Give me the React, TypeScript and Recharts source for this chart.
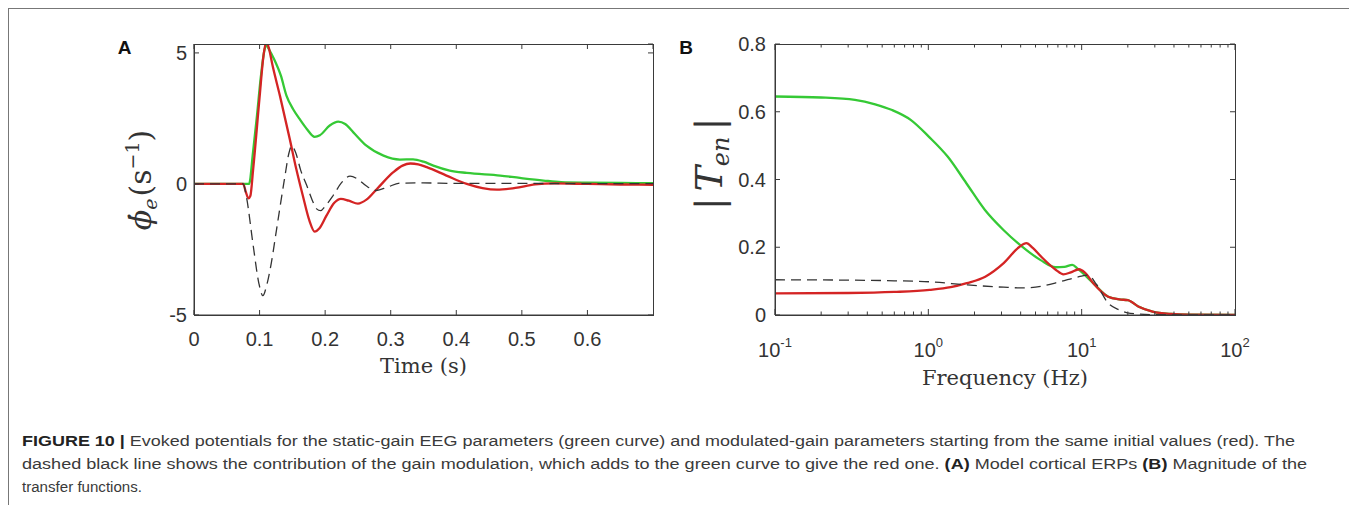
import React from "react";
import { LineChart, Line, XAxis, YAxis, CartesianGrid } from "recharts";

// ---------- Panel A: evoked potentials (time, s) ----------
const greenA = [
  { t: 0, v: 0 }, { t: 0.05, v: 0 }, { t: 0.084, v: 0 }, { t: 0.09, v: 1.2 },
  { t: 0.096, v: 2.6 }, { t: 0.102, v: 4.1 }, { t: 0.107, v: 5.05 }, { t: 0.11, v: 5.3 },
  { t: 0.114, v: 5.15 }, { t: 0.122, v: 4.77 }, { t: 0.1325, v: 4.13 }, { t: 0.141, v: 3.37 },
  { t: 0.151, v: 2.86 }, { t: 0.161, v: 2.48 }, { t: 0.172, v: 2.1 }, { t: 0.184, v: 1.8 },
  { t: 0.192, v: 1.86 }, { t: 0.207, v: 2.23 }, { t: 0.22, v: 2.38 }, { t: 0.2305, v: 2.29 },
  { t: 0.243, v: 1.97 }, { t: 0.263, v: 1.46 }, { t: 0.289, v: 1.08 }, { t: 0.314, v: 0.93 },
  { t: 0.334, v: 0.94 }, { t: 0.35, v: 0.85 }, { t: 0.365, v: 0.7 }, { t: 0.39, v: 0.51 },
  { t: 0.416, v: 0.42 }, { t: 0.467, v: 0.32 }, { t: 0.497, v: 0.23 }, { t: 0.533, v: 0.13 },
  { t: 0.56, v: 0.07 }, { t: 0.6, v: 0.05 }, { t: 0.65, v: 0.04 }, { t: 0.7, v: 0.03 },
];

const redA = [
  { t: 0, v: 0 }, { t: 0.05, v: 0 }, { t: 0.075, v: 0 }, { t: 0.079, v: -0.3 },
  { t: 0.083, v: -0.55 }, { t: 0.086, v: -0.45 }, { t: 0.09, v: 0.5 }, { t: 0.1, v: 3.3 },
  { t: 0.106, v: 4.9 }, { t: 0.1105, v: 5.45 }, { t: 0.114, v: 5.2 }, { t: 0.12, v: 4.5 },
  { t: 0.131, v: 3.37 }, { t: 0.146, v: 1.72 }, { t: 0.156, v: 0.57 }, { t: 0.166, v: -0.45 },
  { t: 0.176, v: -1.4 }, { t: 0.184, v: -1.82 }, { t: 0.191, v: -1.7 }, { t: 0.202, v: -1.21 },
  { t: 0.214, v: -0.72 }, { t: 0.224, v: -0.57 }, { t: 0.236, v: -0.64 }, { t: 0.25, v: -0.75 },
  { t: 0.263, v: -0.6 }, { t: 0.279, v: -0.19 }, { t: 0.304, v: 0.45 }, { t: 0.318, v: 0.7 },
  { t: 0.33, v: 0.78 }, { t: 0.342, v: 0.75 }, { t: 0.355, v: 0.64 }, { t: 0.385, v: 0.32 },
  { t: 0.416, v: 0.0 }, { t: 0.44, v: -0.16 }, { t: 0.462, v: -0.22 }, { t: 0.49, v: -0.15 },
  { t: 0.52, v: -0.02 }, { t: 0.55, v: 0.02 }, { t: 0.6, v: 0.0 }, { t: 0.65, v: -0.02 },
  { t: 0.7, v: -0.03 },
];

const dashA = [
  { t: 0, v: 0 }, { t: 0.05, v: 0 }, { t: 0.075, v: 0 }, { t: 0.08, v: -0.5 },
  { t: 0.09, v: -2.3 }, { t: 0.099, v: -3.8 }, { t: 0.105, v: -4.26 }, { t: 0.111, v: -3.85 },
  { t: 0.118, v: -3.0 }, { t: 0.126, v: -1.72 }, { t: 0.138, v: 0.19 }, { t: 0.145, v: 1.2 },
  { t: 0.149, v: 1.46 }, { t: 0.155, v: 1.2 }, { t: 0.163, v: 0.5 }, { t: 0.172, v: -0.06 },
  { t: 0.18, v: -0.6 }, { t: 0.187, v: -0.95 }, { t: 0.193, v: -1.02 }, { t: 0.2, v: -0.85 },
  { t: 0.212, v: -0.45 }, { t: 0.225, v: 0.05 }, { t: 0.238, v: 0.3 }, { t: 0.25, v: 0.18 },
  { t: 0.263, v: -0.08 }, { t: 0.278, v: -0.25 }, { t: 0.295, v: -0.12 }, { t: 0.314, v: 0.03 },
  { t: 0.35, v: 0.04 }, { t: 0.4, v: 0.02 }, { t: 0.5, v: 0.02 }, { t: 0.6, v: 0.01 },
  { t: 0.7, v: 0.01 },
];

const timeDomain = [0, 0.7];
const timeTicks = [0, 0.1, 0.2, 0.3, 0.4, 0.5, 0.6];
const timeTickLabels = ["0", "0.1", "0.2", "0.3", "0.4", "0.5", "0.6"];
const phiDomain = [-5, 5.34];
const phiTicks = [-5, 0, 5];
const phiTickLabels = ["-5", "0", "5"];

// ---------- Panel B: transfer function magnitude (frequency, Hz) ----------
const greenB = [
  { f: 0.1, v: 0.645 }, { f: 0.2, v: 0.642 }, { f: 0.332, v: 0.635 }, { f: 0.45, v: 0.622 },
  { f: 0.58, v: 0.605 }, { f: 0.767, v: 0.576 }, { f: 1.01, v: 0.526 }, { f: 1.34, v: 0.467 },
  { f: 1.77, v: 0.389 }, { f: 2.34, v: 0.31 }, { f: 3.09, v: 0.251 }, { f: 4.09, v: 0.202 },
  { f: 5.4, v: 0.162 }, { f: 6.76, v: 0.141 }, { f: 7.7, v: 0.142 }, { f: 8.69, v: 0.148 },
  { f: 9.45, v: 0.136 }, { f: 11.9, v: 0.094 }, { f: 14.9, v: 0.054 }, { f: 17.6, v: 0.046 },
  { f: 20, v: 0.044 }, { f: 23.4, v: 0.025 }, { f: 29, v: 0.01 }, { f: 38.5, v: 0.003 },
  { f: 50, v: 0.001 }, { f: 100, v: 0.0 },
];

const redB = [
  { f: 0.1, v: 0.064 }, { f: 0.3, v: 0.065 }, { f: 0.6, v: 0.068 }, { f: 1.02, v: 0.074 },
  { f: 1.4, v: 0.082 }, { f: 1.78, v: 0.094 }, { f: 2.35, v: 0.113 }, { f: 3.1, v: 0.153 },
  { f: 3.9, v: 0.2 }, { f: 4.36, v: 0.212 }, { f: 4.8, v: 0.198 }, { f: 5.45, v: 0.172 },
  { f: 6.8, v: 0.133 }, { f: 7.6, v: 0.12 }, { f: 8.5, v: 0.126 }, { f: 9.6, v: 0.135 },
  { f: 10.5, v: 0.125 }, { f: 11.9, v: 0.094 }, { f: 14.9, v: 0.054 }, { f: 17.6, v: 0.046 },
  { f: 20, v: 0.044 }, { f: 23.4, v: 0.025 }, { f: 29, v: 0.01 }, { f: 38.5, v: 0.003 },
  { f: 50, v: 0.001 }, { f: 100, v: 0.0 },
];

const dashB = [
  { f: 0.1, v: 0.104 }, { f: 0.3, v: 0.103 }, { f: 0.6, v: 0.101 }, { f: 1.02, v: 0.098 },
  { f: 1.78, v: 0.089 }, { f: 3.1, v: 0.082 }, { f: 4.12, v: 0.08 }, { f: 5.45, v: 0.085 },
  { f: 7.2, v: 0.098 }, { f: 9.6, v: 0.113 }, { f: 11, v: 0.118 }, { f: 12.5, v: 0.09 },
  { f: 14.9, v: 0.035 }, { f: 17.6, v: 0.015 }, { f: 20.8, v: 0.005 }, { f: 30, v: 0.001 },
  { f: 100, v: 0.0 },
];

const freqDomain = [0.1, 100];
const freqTicks = [
  0.1, 0.2, 0.3, 0.4, 0.5, 0.6, 0.7, 0.8, 0.9,
  1, 2, 3, 4, 5, 6, 7, 8, 9,
  10, 20, 30, 40, 50, 60, 70, 80, 90, 100,
];
const freqMajor = [0.1, 1, 10, 100];
const freqExponents = ["-1", "0", "1", "2"];
const tenDomain = [0, 0.8];
const tenTicks = [0, 0.2, 0.4, 0.6, 0.8];
const tenTickLabels = ["0", "0.2", "0.4", "0.6", "0.8"];

// ---------- caption ----------
const captionLine1Bold = "FIGURE 10 |";
const captionLine1 =
  " Evoked potentials for the static-gain EEG parameters (green curve) and modulated-gain parameters starting from the same initial values (red). The";
const captionLine2a =
  "dashed black line shows the contribution of the gain modulation, which adds to the green curve to give the red one. ";
const captionLine2b = " Model cortical ERPs ";
const captionLine2c = " Magnitude of the";
const captionLine3 = "transfer functions.";

const AX = "#3a3a3a";
const TXT = "#333";
const SANS = "'Liberation Sans', Arial, Helvetica, sans-serif";
const SERIF = "'DejaVu Serif', serif";
const GREEN = "#35c935";
const RED = "#d42424";
const DASH = "#333";

// ---------- tick renderers ----------
const XTickA = (props: any) => {
  const { x, y, index } = props;
  return (
    <g>
      <line x1={x} x2={x} y1={y} y2={y - 5} stroke={AX} strokeWidth={1} />
      <text x={x} y={y + 31} textAnchor="middle" fontFamily={SANS} fontSize={20} fill={TXT}>
        {timeTickLabels[index]}
      </text>
    </g>
  );
};
const YTickA = (props: any) => {
  const { x, y, index } = props;
  return (
    <g>
      <line x1={x} x2={x + 5} y1={y} y2={y} stroke={AX} strokeWidth={1} />
      <text x={x - 7} y={y + 7} textAnchor="end" fontFamily={SANS} fontSize={20} fill={TXT}>
        {phiTickLabels[index]}
      </text>
    </g>
  );
};
const isMajor = (v: number) => freqMajor.some((m) => Math.abs(m - v) / m < 1e-6);
const XTickB = (props: any) => {
  const { x, y, payload } = props;
  const v = payload.value as number;
  const major = isMajor(v);
  const mi = freqMajor.findIndex((m) => Math.abs(m - v) / m < 1e-6);
  return (
    <g>
      <line x1={x} x2={x} y1={y} y2={y - (major ? 6 : 3.5)} stroke={AX} strokeWidth={1} />
      {major && (
        <text x={x} y={y + 42} textAnchor="middle" fontFamily={SANS} fontSize={20} fill={TXT}>
          <tspan>10</tspan>
          <tspan fontSize={13} dy={-10}>{freqExponents[mi]}</tspan>
        </text>
      )}
    </g>
  );
};
const YTickB = (props: any) => {
  const { x, y, index } = props;
  return (
    <g>
      <line x1={x} x2={x + 5} y1={y} y2={y} stroke={AX} strokeWidth={1} />
      <text x={x - 9} y={y + 7} textAnchor="end" fontFamily={SANS} fontSize={20} fill={TXT}>
        {tenTickLabels[index]}
      </text>
    </g>
  );
};

// grid renderers: only the mirrored inward stubs on the top and right frame edges
const topStubsA = (p: any) => {
  const yt = Math.min(p.y1, p.y2);
  return <line key={p.key} x1={p.x1} x2={p.x1} y1={yt} y2={yt + 5} stroke={AX} strokeWidth={1} />;
};
const topStubsB = (p: any) => {
  const yt = Math.min(p.y1, p.y2);
  const v = freqTicks[p.index];
  const len = v !== undefined && isMajor(v) ? 6 : 3.5;
  return <line key={p.key} x1={p.x1} x2={p.x1} y1={yt} y2={yt + len} stroke={AX} strokeWidth={1} />;
};
const rightStubs = (p: any) => {
  const xr = Math.max(p.x1, p.x2);
  return <line key={p.key} x1={xr} x2={xr - 5} y1={p.y1} y2={p.y1} stroke={AX} strokeWidth={1} />;
};

const axisCommon = {
  interval: 0 as const,
  tickSize: 0,
  tickMargin: 0,
  tickLine: false,
  stroke: AX,
  allowDataOverflow: true,
};

const lineCommon = {
  type: "monotone" as const,
  dot: false,
  activeDot: false,
  isAnimationActive: false,
};

const frameStyle = (left: number, top: number, w: number, h: number): React.CSSProperties => ({
  position: "absolute",
  left,
  top,
  width: w,
  height: h,
  boxSizing: "border-box",
  border: `1px solid ${AX}`,
  pointerEvents: "none",
});

export default function App() {
  return (
    <div style={{ position: "relative", width: 1349, height: 497, overflow: "hidden" }}>
      <div
        style={{
          position: "absolute",
          left: 0,
          top: 0,
          width: 1348,
          height: 520,
          boxSizing: "border-box",
          border: "1px solid #777",
        }}
      />
      {/* Panel A: plot area page x 194..653, y 44..315 */}
      <div style={{ position: "absolute", left: 92, top: 12 }}>
        <LineChart width={570} height={390} margin={{ left: 93, top: 24, right: 17, bottom: 94 }}>
          <CartesianGrid vertical={topStubsA} horizontal={rightStubs} stroke={AX} />
          <XAxis {...axisCommon} dataKey="t" type="number" domain={timeDomain} ticks={timeTicks} height={1} tick={<XTickA />} />
          <YAxis {...axisCommon} type="number" domain={phiDomain} ticks={phiTicks} width={1} tick={<YTickA />} />
          <Line {...lineCommon} data={greenA} dataKey="v" stroke={GREEN} strokeWidth={2.3} />
          <Line {...lineCommon} data={redA} dataKey="v" stroke={RED} strokeWidth={2.3} />
          <Line {...lineCommon} data={dashA} dataKey="v" stroke={DASH} strokeWidth={1.3} strokeDasharray="10 6" />
        </LineChart>
      </div>
      <div style={frameStyle(186, 36, 460, 272)} />
      {/* Panel B: plot area page x 775..1235, y 44..315 */}
      <div style={{ position: "absolute", left: 662, top: 12 }}>
        <LineChart width={630} height={390} margin={{ left: 104, top: 24, right: 65, bottom: 94 }}>
          <CartesianGrid vertical={topStubsB} horizontal={rightStubs} stroke={AX} />
          <XAxis {...axisCommon} dataKey="f" type="number" scale="log" domain={freqDomain} ticks={freqTicks} height={1} tick={<XTickB />} />
          <YAxis {...axisCommon} type="number" domain={tenDomain} ticks={tenTicks} width={1} tick={<YTickB />} />
          <Line {...lineCommon} data={greenB} dataKey="v" stroke={GREEN} strokeWidth={2.3} />
          <Line {...lineCommon} data={redB} dataKey="v" stroke={RED} strokeWidth={2.3} />
          <Line {...lineCommon} data={dashB} dataKey="v" stroke={DASH} strokeWidth={1.3} strokeDasharray="10 6" />
        </LineChart>
      </div>
      <div style={frameStyle(767, 36, 461, 272)} />
      {/* Overlay texts in page coordinates */}
      <svg width={1357} height={505} style={{ position: "absolute", left: -8, top: -8, pointerEvents: "none" }}>
        <text x={124.5} y={53.5} textAnchor="middle" fontFamily={SANS} fontWeight="bold" fontSize={19} fill="#111">A</text>
        <text x={686} y={54} textAnchor="middle" fontFamily={SANS} fontWeight="bold" fontSize={19} fill="#111">B</text>

        <text x={423.5} y={373} textAnchor="middle" fontFamily={SERIF} fontSize={21} fill={TXT}>Time (s)</text>
        <text x={1005} y={385} textAnchor="middle" fontFamily={SERIF} fontSize={21} fill={TXT}>Frequency (Hz)</text>

        <text transform="translate(151,180) rotate(-90)" textAnchor="middle" fontFamily={SERIF} fontSize={30} fill={TXT}>
          <tspan fontStyle="italic">{"\u03D5\u0307"}</tspan>
          <tspan fontStyle="italic" fontSize={19} dy={6}>e</tspan>
          <tspan dy={-6} dx={2}>(s</tspan>
          <tspan fontSize={19} dy={-12}>{"\u22121"}</tspan>
          <tspan dy={12}>)</tspan>
        </text>
        <text transform="translate(722,164) rotate(-90)" textAnchor="middle" fontFamily={SERIF} fontSize={38} fill={TXT}>
          <tspan>|</tspan>
          <tspan fontStyle="italic" dx={6}>T</tspan>
          <tspan fontStyle="italic" fontSize={24} dy={7}>en</tspan>
          <tspan dy={-7} dx={6}>|</tspan>
        </text>

        <text x={22} y={446} fontFamily={SANS} fontSize={15.5} fill="#3a3a3a" textLength={1273} lengthAdjust="spacingAndGlyphs">
          <tspan fontWeight="bold" fill="#222">{captionLine1Bold}</tspan>
          <tspan>{captionLine1}</tspan>
        </text>
        <text x={22} y={469} fontFamily={SANS} fontSize={15.5} fill="#3a3a3a" textLength={1285} lengthAdjust="spacingAndGlyphs">
          <tspan>{captionLine2a}</tspan>
          <tspan fontWeight="bold" fill="#222">(A)</tspan>
          <tspan>{captionLine2b}</tspan>
          <tspan fontWeight="bold" fill="#222">(B)</tspan>
          <tspan>{captionLine2c}</tspan>
        </text>
        <text x={22} y={492} fontFamily={SANS} fontSize={15.5} fill="#3a3a3a" textLength={120} lengthAdjust="spacingAndGlyphs">
          {captionLine3}
        </text>
      </svg>
    </div>
  );
}
